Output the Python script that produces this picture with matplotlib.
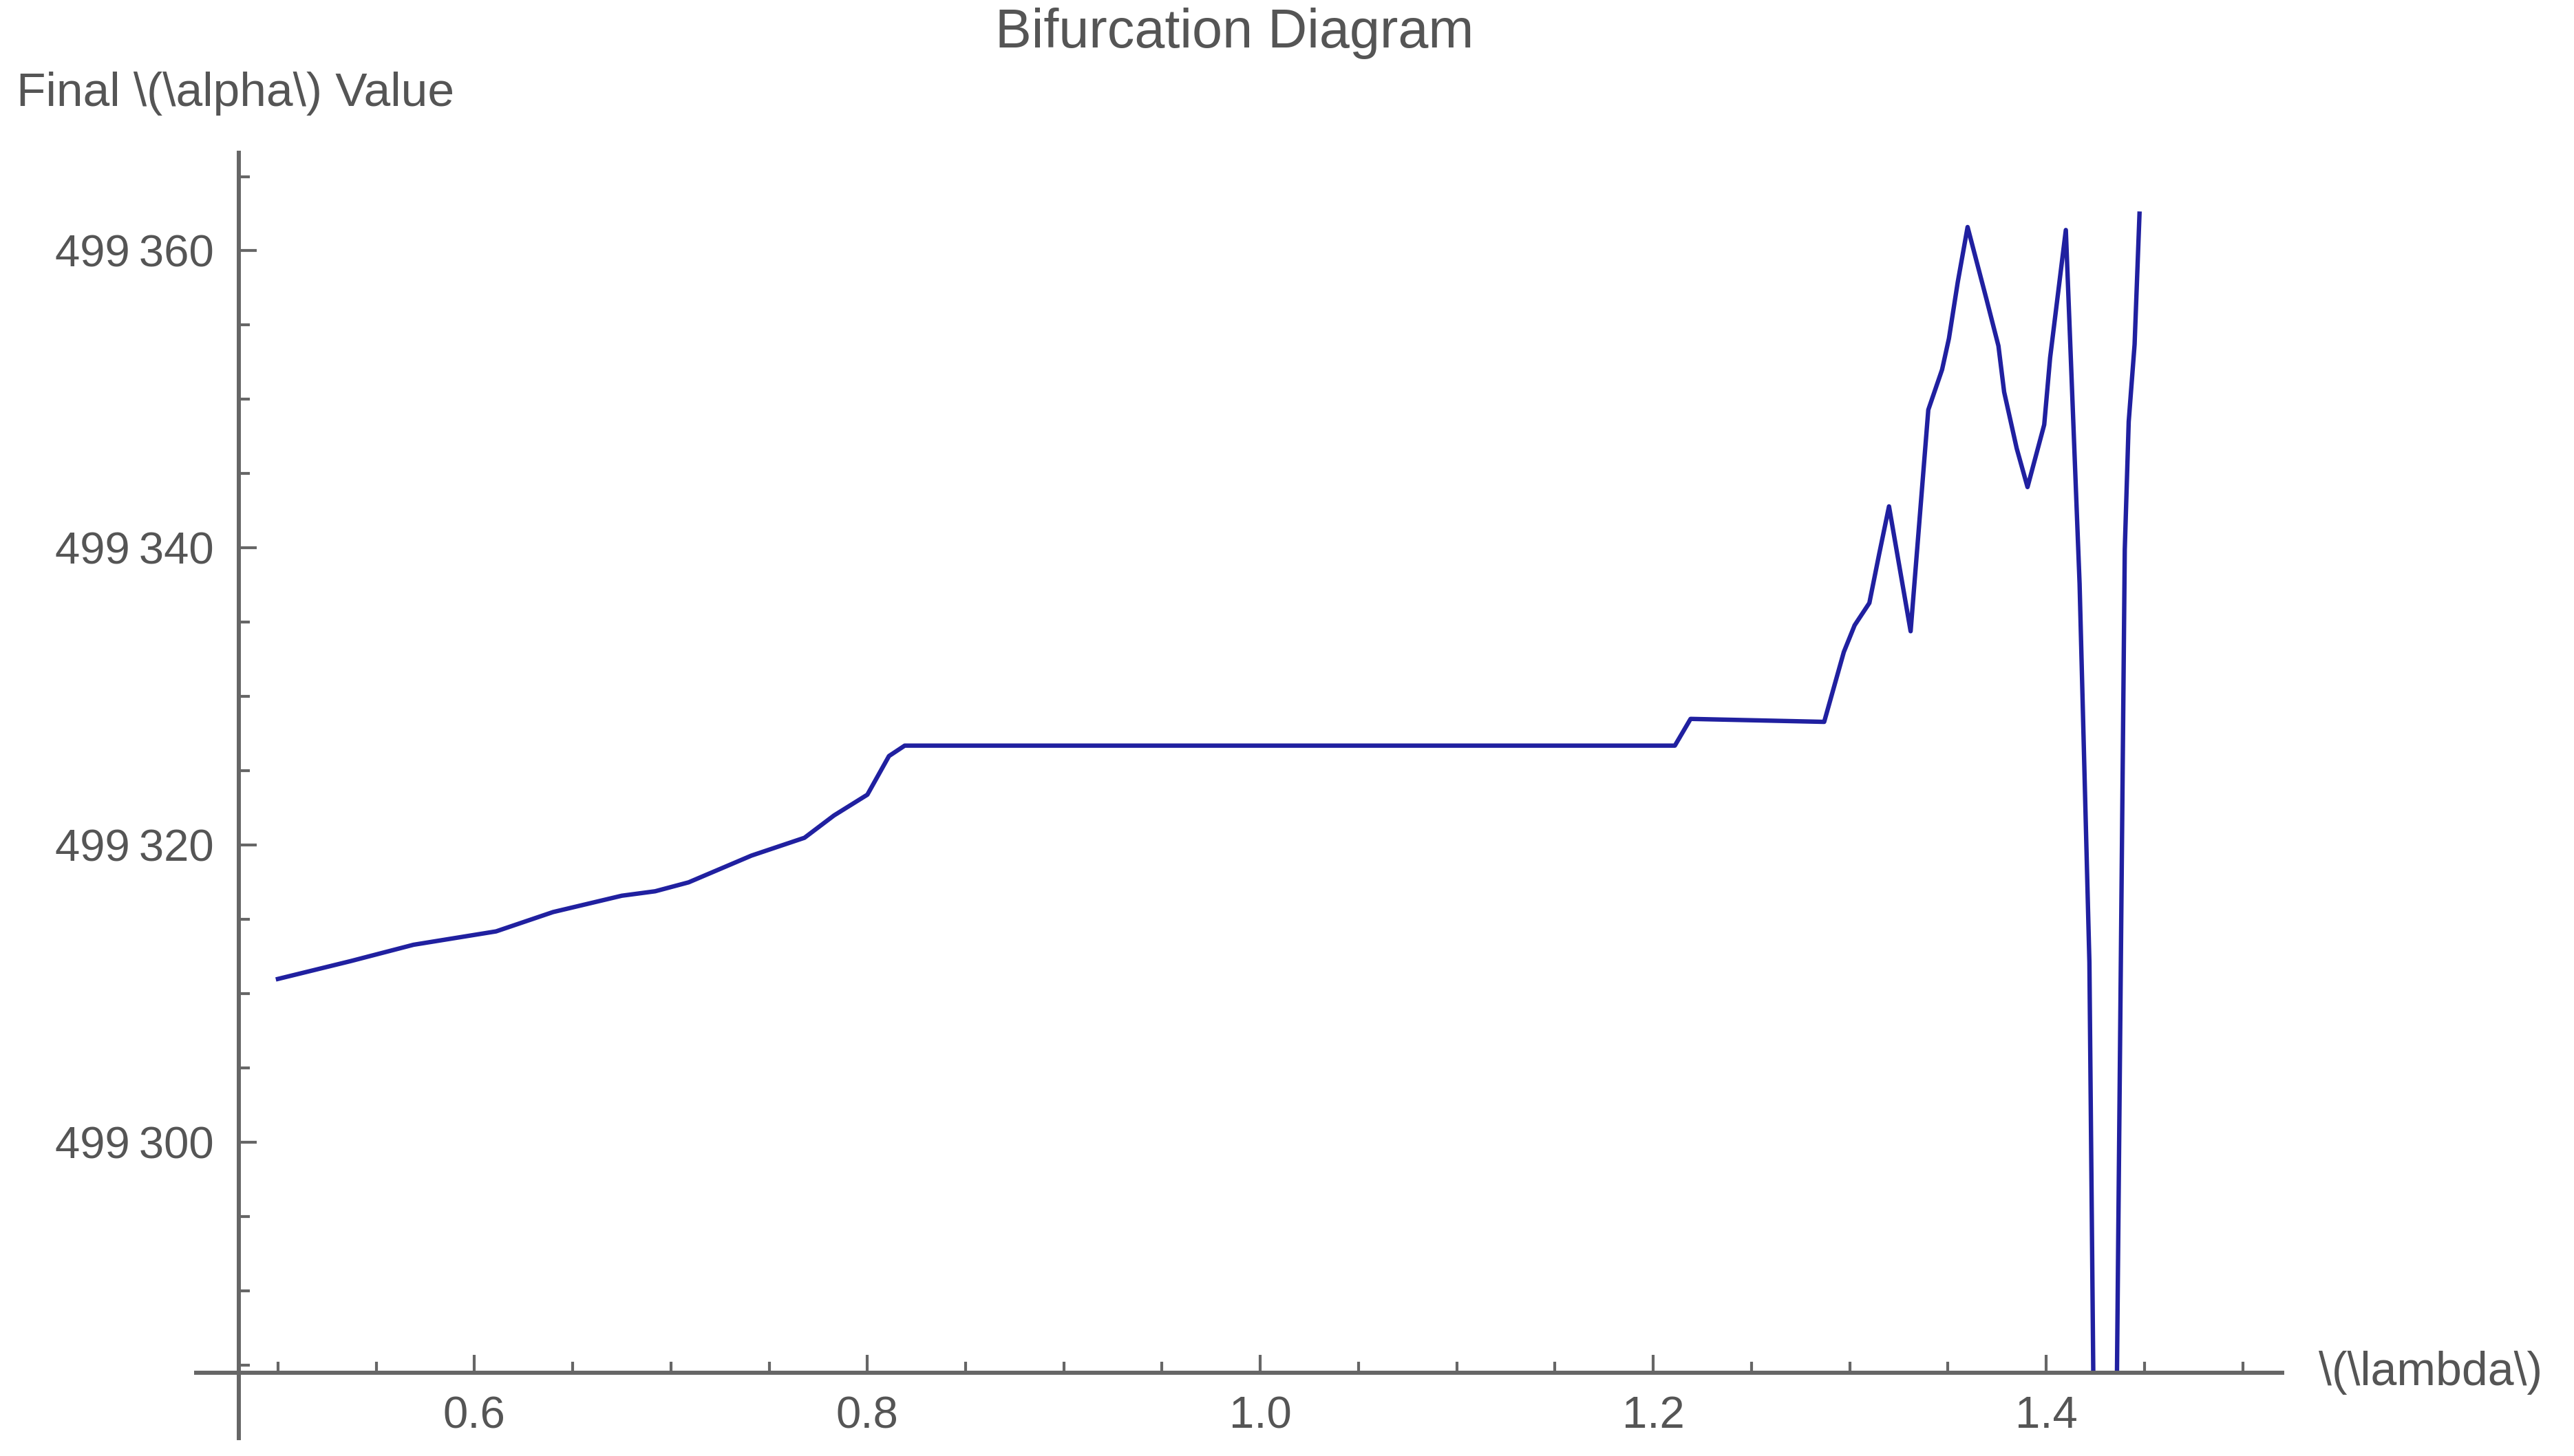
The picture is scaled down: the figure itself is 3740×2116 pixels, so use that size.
import matplotlib
matplotlib.use('Agg')
import matplotlib.pyplot as plt
from matplotlib.ticker import MultipleLocator

# lambda values and final alpha values
lam = [0.500, 0.537, 0.569, 0.611, 0.640, 0.675, 0.692, 0.709, 0.741, 0.768,
       0.783, 0.800, 0.811, 0.819, 1.211, 1.219, 1.287, 1.297, 1.3025, 1.310,
       1.315, 1.320, 1.331, 1.340, 1.347, 1.3505, 1.355, 1.360, 1.3695, 1.3757,
       1.3786, 1.385, 1.3905, 1.399, 1.402, 1.410, 1.417, 1.422, 1.430, 1.438,
       1.440, 1.442, 1.445, 1.4475]
alpha_final = [499311.0, 499312.2, 499313.3, 499314.2, 499315.5, 499316.6, 499316.9,
               499317.5, 499319.3, 499320.5, 499322.0, 499323.4, 499326.0, 499326.7,
               499326.7, 499328.5, 499328.3, 499333.0, 499334.8, 499336.3, 499339.6,
               499342.8, 499334.4, 499349.3, 499352.0, 499354.1, 499357.9, 499361.6,
               499356.8, 499353.6, 499350.5, 499346.7, 499344.1, 499348.3, 499352.8,
               499361.4, 499337.6, 499312.1, 499200.0, 499312.1, 499339.9, 499348.5,
               499353.7, 499362.5]

x_ticks = [0.6, 0.8, 1.0, 1.2, 1.4]
x_tick_labels = ['0.6', '0.8', '1.0', '1.2', '1.4']
y_ticks = [499300, 499320, 499340, 499360]
y_tick_labels = ['499\u2009300', '499\u2009320', '499\u2009340', '499\u2009360']

plt.rcParams['font.family'] = ['Liberation Sans', 'DejaVu Sans']

axis_col = '#666666'
text_col = '#555555'

fig = plt.figure(figsize=(37.41, 21.16), dpi=100)
ax = fig.add_axes([0.0927, 0.0572, 0.7936, 0.8379])

ax.plot(lam, alpha_final, color='#2020a0', lw=4.6)

ax.set_xlim(0.48, 1.52)
ax.set_ylim(499284.5, 499366.6)

# Mathematica-like axes: only left and bottom, slightly overhanging
ax.spines['top'].set_visible(False)
ax.spines['right'].set_visible(False)
for s in ['left', 'bottom']:
    ax.spines[s].set_color(axis_col)
    ax.spines[s].set_linewidth(4.3)
ax.spines['left'].set_bounds(499280.1, 499366.6)
ax.spines['bottom'].set_bounds(0.4583, 1.52)

ax.set_xticks(x_ticks)
ax.set_xticklabels(x_tick_labels)
ax.set_yticks(y_ticks)
ax.set_yticklabels(y_tick_labels)
ax.xaxis.set_minor_locator(MultipleLocator(0.05))
ax.yaxis.set_minor_locator(MultipleLocator(5))

ax.tick_params(which='major', direction='in', length=19, width=3, color=axis_col,
               labelsize=47, labelcolor=text_col)
ax.tick_params(which='minor', direction='in', length=11.5, width=3, color=axis_col)
ax.tick_params(axis='y', which='major', pad=26)
ax.tick_params(axis='x', which='major', pad=24)

fig.text(1794 / 3741, 1 - 48 / 2116, 'Bifurcation Diagram', ha='center', va='center',
         fontsize=57, color=text_col)
fig.text(24 / 3741, 1 - 136 / 2116, r'Final \(\alpha\) Value', ha='left', va='center',
         fontsize=50, color=text_col)
fig.text(3369 / 3741, 1 - 1995 / 2116, r'\(\lambda\)', ha='left', va='center',
         fontsize=49, color=text_col)

fig.savefig('out.png', dpi=100, facecolor='white')
